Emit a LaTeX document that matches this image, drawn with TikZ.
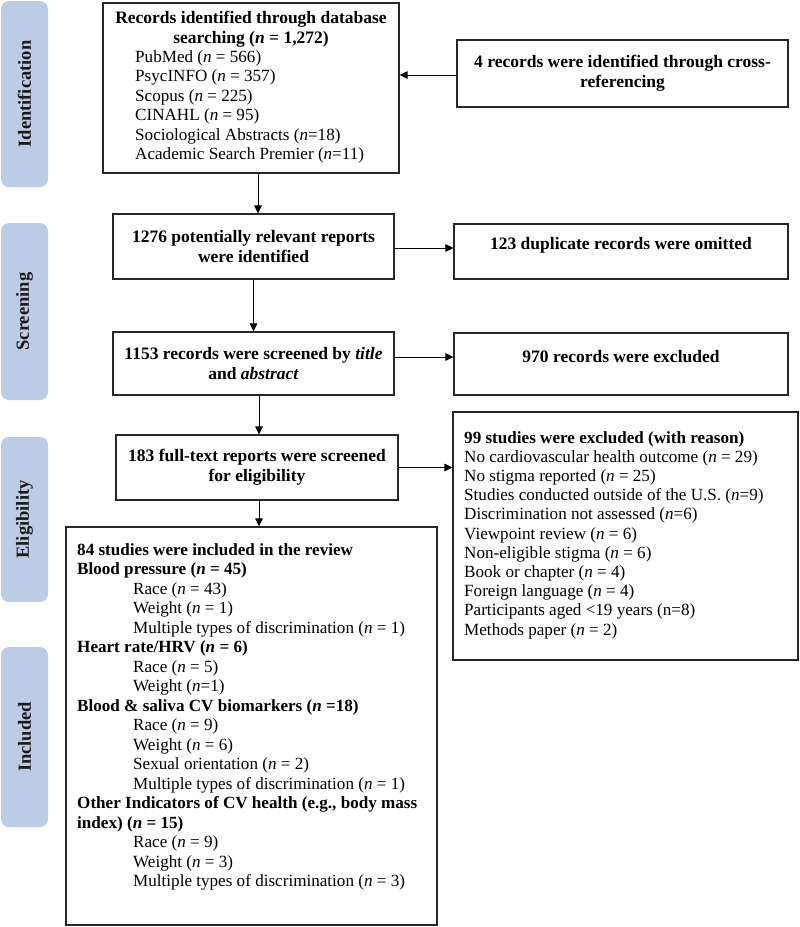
\documentclass[tikz,border=0pt]{standalone}
\usepackage{fontspec}
\setmainfont{Liberation Serif}
\usetikzlibrary{arrows.meta}
\definecolor{sidecol}{RGB}{188,204,230}
\definecolor{boxline}{RGB}{40,40,40}
\tikzset{
  box/.style={draw=boxline, line width=1.1pt, inner sep=0pt},
  side/.style={fill=sidecol, rounded corners=8pt, inner sep=0pt, rotate=90,
    font=\fontsize{18.5}{20}\selectfont\bfseries, text=black!90},
  arr/.style={draw=black, line width=1pt, -{Triangle[length=8pt,width=7.5pt]}},
  txt/.style={font=\fontsize{17.1}{19.5}\selectfont, inner sep=0pt},
  btxt/.style={font=\fontsize{17.5}{19.5}\selectfont\bfseries, inner sep=0pt},
}
\newcommand{\nn}{\textit{n}}
\begin{document}
\begin{tikzpicture}[x=1pt,y=-1pt]
\useasboundingbox (0,0) rectangle (800,927);
% sidebars
\node[side, minimum width=186pt, minimum height=47pt] (sid) at (24.5,94) {Identification};
\node[side, minimum width=177pt, minimum height=47pt] (sscr) at (24.5,311.5) {Screening};
\node[side, minimum width=165pt, minimum height=47pt] (selg) at (24.5,519.5) {Eligibility};
\node[side, minimum width=180pt, minimum height=47pt] (sinc) at (24.5,737) {Included};
% boxes
\node[box, minimum width=296pt, minimum height=170pt] (b1) at (251,88) {};
\node[btxt, align=center, anchor=north] (b1t) at (251,11) {Records identified through database\\searching (\nn{} = 1,272)};
\node[txt, align=left, anchor=north west] (b1l) at (135,50) {PubMed (\nn{} = 566)\\PsycINFO (\nn{} = 357)\\Scopus (\nn{} = 225)\\CINAHL (\nn{} = 95)\\Sociological Abstracts (\nn{}=18)\\Academic Search Premier (\nn{}=11)};
\node[box, btxt, align=center, minimum width=331pt, minimum height=67pt] (cross) at (622.5,73.5) {4 records were identified through cross-\\referencing};
\node[box, btxt, align=center, minimum width=281pt, minimum height=65pt] (b2) at (253.5,246.5) {1276 potentially relevant reports\\were identified};
\node[box, minimum width=334pt, minimum height=55pt] (dup) at (621,251.5) {};
\node[btxt] (dupt) at (621,245.5) {123 duplicate records were omitted};
\node[box, btxt, align=center, minimum width=281pt, minimum height=63pt] (b3) at (253.5,363.5) {1153 records were screened by \textit{title}\\and \textit{abstract}};
\node[box, minimum width=334pt, minimum height=62pt] (excl) at (621,364) {};
\node[btxt] (exclt) at (621,356.5) {970 records were excluded};
\node[box, btxt, align=center, minimum width=282pt, minimum height=65pt] (b4) at (257,467.5) {183 full-text reports were screened\\for eligibility};
\node[box, minimum width=345pt, minimum height=248pt] (rsn) at (625.5,536) {};
\node[txt, align=left, anchor=north west, font=\fontsize{17.1}{19.2}\selectfont] (rsnt) at (464,431) {\textbf{99 studies were excluded (with reason)}\\No cardiovascular health outcome (\nn{} = 29)\\No stigma reported (\nn{} = 25)\\Studies conducted outside of the U.S. (\nn{}=9)\\Discrimination not assessed (\nn{}=6)\\Viewpoint review (\nn{} = 6)\\Non-eligible stigma (\nn{} = 6)\\Book or chapter (\nn{} = 4)\\Foreign language (\nn{} = 4)\\Participants aged <19 years (n=8)\\Methods paper (\nn{} = 2)};
\node[box, minimum width=371pt, minimum height=398pt] (b5) at (251.5,726) {};
\node[txt, align=left, anchor=north west] (b5t) at (77,543) {\textbf{84 studies were included in the review}\\
\textbf{Blood pressure (\nn{} = 45)}\\
\hspace*{56pt}Race (\nn{} = 43)\\
\hspace*{56pt}Weight (\nn{} = 1)\\
\hspace*{56pt}Multiple types of discrimination (\nn{} = 1)\\
\textbf{Heart rate/HRV (\nn{} = 6)}\\
\hspace*{56pt}Race (\nn{} = 5)\\
\hspace*{56pt}Weight (\nn{}=1)\\
\textbf{Blood \& saliva CV biomarkers (\nn{} =18)}\\
\hspace*{56pt}Race (\nn{} = 9)\\
\hspace*{56pt}Weight (\nn{} = 6)\\
\hspace*{56pt}Sexual orientation (\nn{} = 2)\\
\hspace*{56pt}Multiple types of discrimination (\nn{} = 1)\\
\textbf{Other Indicators of CV health (e.g., body mass}\\
\textbf{index) (\nn{} = 15)}\\
\hspace*{56pt}Race (\nn{} = 9)\\
\hspace*{56pt}Weight (\nn{} = 3)\\
\hspace*{56pt}Multiple types of discrimination (\nn{} = 3)};
% arrows
\draw[arr] ([xshift=7pt]b1.south) -- ([xshift=7pt]b1.south |- b2.north);
\draw[arr] ([yshift=-1.5pt]cross.west) -- ([yshift=-1.5pt]cross.west -| b1.east);
\draw[arr] (b2.south) -- (b2.south |- b3.north);
\draw[arr] ([yshift=-1.5pt]b2.east) -- ([yshift=-1.5pt]b2.east -| dup.west);
\draw[arr] ([xshift=5.5pt]b3.south) -- ([xshift=5.5pt]b3.south |- b4.north);
\draw[arr] ([yshift=6.5pt]b3.east) -- ([yshift=6.5pt]b3.east -| excl.west);
\draw[arr] ([xshift=2pt]b4.south) -- ([xshift=2pt]b4.south |- b5.north);
\draw[arr] (b4.east) -- (b4.east -| rsn.west);
\end{tikzpicture}
\end{document}
